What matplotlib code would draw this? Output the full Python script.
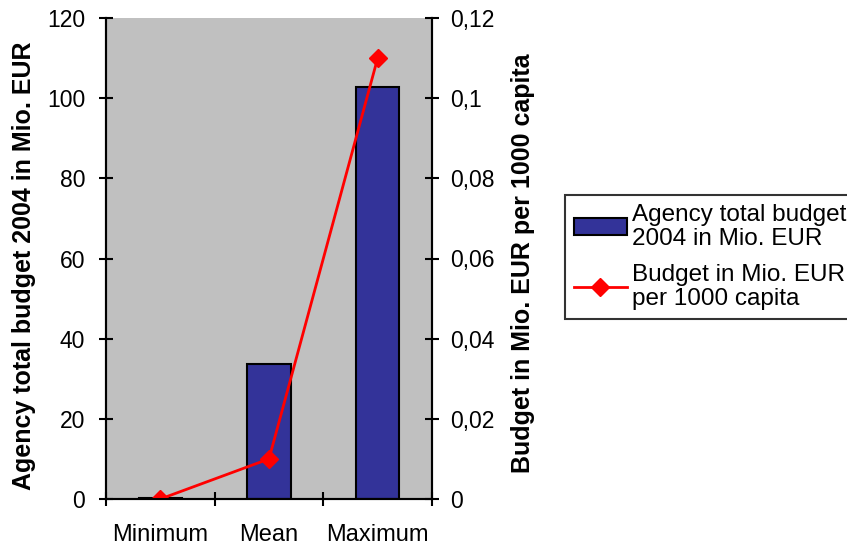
import matplotlib.pyplot as plt
from matplotlib.ticker import FuncFormatter, MultipleLocator

categories = ["Minimum", "Mean", "Maximum"]
total_budget = [0.3, 33.6, 102.7]
budget_per_capita = [0.0, 0.01, 0.11]

plt.rcParams['font.family'] = ['Liberation Sans', 'DejaVu Sans']

fig = plt.figure(figsize=(8.47, 5.46), dpi=100)
ax = fig.add_axes([106 / 847, 1 - 499 / 546, (432 - 106) / 847, (499 - 18) / 546])
ax.set_facecolor('#C0C0C0')

x = range(len(categories))
bars = ax.bar(x, total_budget, width=0.4, color='#333399', edgecolor='black', linewidth=1.5,
              label='Agency total budget\n2004 in Mio. EUR')
ax.set_xlim(-0.5, 2.5)
ax.set_ylim(0, 120)
ax.set_xticks([-0.5, 0.5, 1.5, 2.5])
ax.set_xticklabels([])
ax.set_xticks(list(x), categories, minor=True)
ax.tick_params(axis='x', which='minor', length=0, labelsize=17, pad=18)
ax.tick_params(axis='x', which='major', direction='inout', length=10, width=1.5)
ax.yaxis.set_major_locator(MultipleLocator(20))
ax.tick_params(axis='y', direction='inout', length=10, width=1.5, labelsize=16.5, pad=10)
ax.set_ylabel('Agency total budget 2004 in Mio. EUR', fontsize=18, fontweight='bold')
ax.yaxis.set_label_coords(-0.215, 0.485)

ax2 = ax.twinx()
line, = ax2.plot(list(x), budget_per_capita, color='red', linewidth=2, marker='D', markersize=9,
                 label='Budget in Mio. EUR\nper 1000 capita')
ax2.set_ylim(0, 0.12)
ax2.yaxis.set_major_locator(MultipleLocator(0.02))
ax2.yaxis.set_major_formatter(FuncFormatter(lambda v, p: f"{v:g}".replace('.', ',')))
ax2.tick_params(axis='y', direction='inout', length=10, width=1.5, labelsize=16.5, pad=8)
ax2.set_ylabel('Budget in Mio. EUR per 1000 capita', fontsize=18, fontweight='bold')
ax2.yaxis.set_label_coords(1.242, 0.49)

for a in (ax, ax2):
    a.spines['top'].set_visible(False)
    for s in ('left', 'right', 'bottom'):
        a.spines[s].set_linewidth(1.5)

leg = fig.legend([bars, line], [bars.get_label(), line.get_label()],
                 loc='upper left', bbox_to_anchor=(565 / 847, 1 - 195 / 546),
                 fontsize=17.5, frameon=True, fancybox=False, handlelength=2.2,
                 borderaxespad=0, labelspacing=0.6, handletextpad=0.2, borderpad=0.35)
for t in leg.get_texts():
    t.set_linespacing(1.12)
leg.get_frame().set_edgecolor('black')
leg.get_frame().set_linewidth(1.5)

fig.savefig('out.png', dpi=100)
